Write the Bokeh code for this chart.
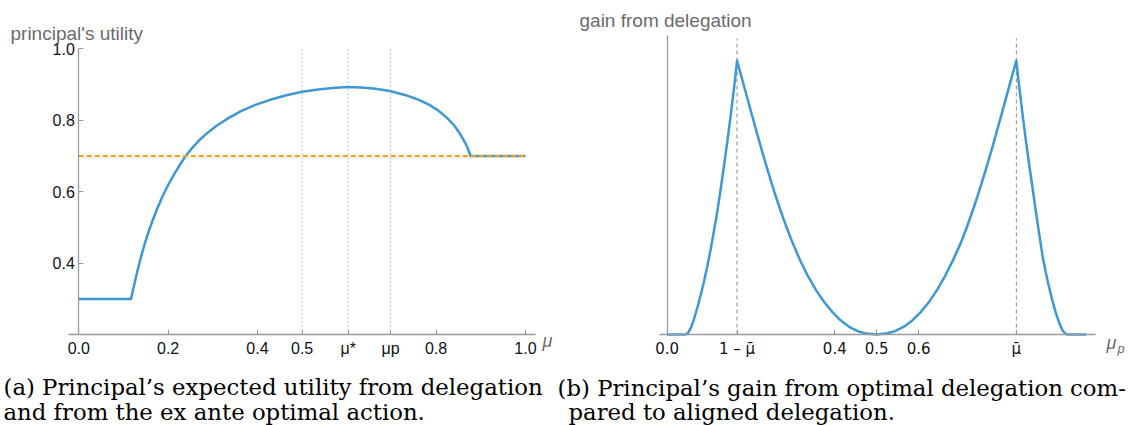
from bokeh.plotting import figure
from bokeh.models import Range1d, FixedTicker, Label, NumeralTickFormatter
from bokeh.layouts import row
from bokeh.embed import file_html
from bokeh.resources import INLINE

# ---------------- data: panel (a) ----------------
mu_star = 0.603
mu_p = 0.698
deleg_mu = [0.0, 0.117, 0.120, 0.125, 0.130, 0.138, 0.146, 0.155, 0.165, 0.175,
            0.187, 0.200, 0.213, 0.226, 0.238, 0.252, 0.268, 0.287, 0.310, 0.335,
            0.362, 0.395, 0.430, 0.465, 0.500, 0.540, 0.575, 0.603, 0.630, 0.660,
            0.696, 0.730, 0.760, 0.785, 0.805, 0.825, 0.840, 0.852, 0.862, 0.870,
            0.877, 1.0]
deleg_u = [0.300, 0.300, 0.318, 0.345, 0.372, 0.412, 0.448, 0.484, 0.519, 0.551,
           0.586, 0.619, 0.648, 0.675, 0.698, 0.720, 0.742, 0.764, 0.786, 0.806,
           0.825, 0.843, 0.858, 0.870, 0.880, 0.887, 0.891, 0.893, 0.892, 0.889,
           0.882, 0.871, 0.858, 0.843, 0.827, 0.806, 0.786, 0.765, 0.744, 0.724,
           0.700, 0.700]
exante_mu = [0.0, 1.0]
exante_u = [0.7, 0.7]
ref_mu = [0.5, mu_star, mu_p]
a_xticks = [0.0, 0.2, 0.4, 0.5, mu_star, mu_p, 0.8, 1.0]
a_xlabels = ["0.0", "0.2", "0.4", "0.5", "\u03bc*", "\u03bcp", "0.8", "1.0"]
a_yticks = [0.4, 0.6, 0.8, 1.0]

# ---------------- data: panel (b) ----------------
mu_bar = 0.8333
gain_mu = [0.0, 0.044, 0.050, 0.057, 0.064, 0.072, 0.080, 0.088, 0.096, 0.104,
           0.112, 0.120, 0.128, 0.136, 0.144, 0.152, 0.160, 0.1667, 0.180, 0.195,
           0.210, 0.225, 0.240, 0.255, 0.270, 0.285, 0.300, 0.318, 0.336, 0.355,
           0.375, 0.395, 0.415, 0.435, 0.455, 0.475, 0.500, 0.525, 0.545, 0.565,
           0.585, 0.605, 0.625, 0.645, 0.664, 0.682, 0.700, 0.715, 0.730, 0.745,
           0.760, 0.775, 0.790, 0.805, 0.820, 0.8333, 0.840, 0.848, 0.856, 0.864,
           0.872, 0.880, 0.888, 0.896, 0.904, 0.912, 0.920, 0.928, 0.936, 0.943,
           0.950, 0.955, 1.0]
gain_val = [0.0, 0.0, 0.006, 0.024, 0.052, 0.090, 0.132, 0.178, 0.230, 0.287,
            0.350, 0.415, 0.490, 0.568, 0.650, 0.738, 0.830, 0.916, 0.848, 0.771,
            0.695, 0.620, 0.548, 0.480, 0.417, 0.358, 0.304, 0.246, 0.195, 0.149,
            0.108, 0.074, 0.046, 0.025, 0.011, 0.003, 0.0, 0.004, 0.012, 0.026,
            0.047, 0.075, 0.109, 0.151, 0.198, 0.248, 0.304, 0.358, 0.418, 0.481,
            0.550, 0.621, 0.696, 0.772, 0.849, 0.916, 0.830, 0.738, 0.650, 0.568,
            0.490, 0.410, 0.335, 0.262, 0.205, 0.155, 0.110, 0.070, 0.038, 0.015,
            0.003, 0.0, 0.0]
ref_b = [1 - mu_bar, mu_bar]
b_xticks = [0.0, 1 - mu_bar, 0.4, 0.5, 0.6, mu_bar]
b_xlabels = ["0.0", "1 \u2013 \u03bc\u0304", "0.4", "0.5", "0.6", "\u03bc\u0304"]

BLUE = "#3d98d3"
ORANGE = "#f59f23"
AXIS = "#9a9a9a"
LABEL_GRAY = "#6b6b6b"
SANS = "Liberation Sans"
SERIF = "DejaVu Serif"
CAP = "22.8px"


def style_axes(p):
    p.outline_line_color = None
    p.xgrid.visible = False
    p.ygrid.visible = False
    p.background_fill_color = "white"
    p.border_fill_color = "white"
    for ax in (p.xaxis[0], p.yaxis[0]):
        ax.axis_line_color = AXIS
        ax.axis_line_width = 1.3
        ax.major_tick_line_color = AXIS
        ax.major_tick_line_width = 1.0
        ax.major_tick_in = 5
        ax.major_tick_out = 0
        ax.minor_tick_line_color = None
        ax.major_label_text_font = SANS
        ax.major_label_text_font_size = "16px"
        ax.major_label_text_color = "#111111"
    p.xaxis[0].major_label_standoff = 5
    p.yaxis[0].major_label_standoff = 4


def label(p, x, y, text, font=SANS, size="19px", color=LABEL_GRAY, style="normal"):
    p.add_layout(Label(x=x, y=y, text=text, text_font=font, text_font_size=size,
                       text_color=color, text_font_style=style,
                       text_baseline="alphabetic"))


# ---------------- panel (a) ----------------
p1 = figure(width=555, height=425, output_backend="svg", toolbar_location=None,
            x_range=Range1d(-0.1753, 1.0672), y_range=Range1d(-0.0537, 1.1351),
            min_border=0)
style_axes(p1)
p1.xaxis[0].fixed_location = 0.2
p1.xaxis[0].bounds = (-0.023, 1.0224)
p1.yaxis[0].fixed_location = 0.0
p1.yaxis[0].bounds = (0.2, 1.0)
p1.xaxis[0].ticker = FixedTicker(ticks=a_xticks)
p1.xaxis[0].major_label_overrides = {t: l for t, l in zip(a_xticks, a_xlabels)}
p1.yaxis[0].ticker = FixedTicker(ticks=a_yticks)
p1.yaxis[0].formatter = NumeralTickFormatter(format="0.0")

p1.segment(x0=ref_mu, y0=[0.2] * len(ref_mu), x1=ref_mu, y1=[1.0] * len(ref_mu),
           line_color="#8c8c8c", line_dash="1 3", line_width=1)
p1.line(deleg_mu, deleg_u, line_color=BLUE, line_width=2.5, line_join="round")
p1.line(exante_mu, exante_u, line_color=ORANGE, line_width=2.3, line_dash="5 3")

label(p1, -0.1529, 1.0428, "principal's utility")
label(p1, 1.0381, 0.1813, "\u03bc", size="18px", style="italic")
label(p1, -0.1686, 0.0526, "(a) Principal\u2019s expected utility from delegation",
      font=SERIF, size=CAP, color="black")
label(p1, -0.1686, -0.0146, "and from the ex ante optimal action.",
      font=SERIF, size=CAP, color="black")

# ---------------- panel (b) ----------------
p2 = figure(width=573, height=425, output_backend="svg", toolbar_location=None,
            x_range=Range1d(-0.2666, 1.1010), y_range=Range1d(-0.3043, 1.1171),
            min_border=0)
style_axes(p2)
p2.xaxis[0].fixed_location = 0.0
p2.xaxis[0].bounds = (-0.0184, 1.022)
p2.xaxis[0].major_label_text_font = "DejaVu Sans"
p2.xaxis[0].major_label_text_font_size = "15px"
p2.yaxis[0].fixed_location = 0.0
p2.yaxis[0].bounds = (0.0, 1.0)
p2.xaxis[0].ticker = FixedTicker(ticks=b_xticks)
p2.xaxis[0].major_label_overrides = {t: l for t, l in zip(b_xticks, b_xlabels)}
p2.yaxis[0].ticker = FixedTicker(ticks=[])
p2.yaxis[0].major_label_text_font_size = "0px"

p2.segment(x0=ref_b, y0=[0.0] * len(ref_b), x1=ref_b, y1=[0.99] * len(ref_b),
           line_color="#8c8c8c", line_dash="4 3", line_width=1)
p2.line(gain_mu, gain_val, line_color=BLUE, line_width=2.5, line_join="round")

label(p2, -0.2093, 1.0518, "gain from delegation")
label(p2, 1.0485, -0.0268, "\u03bc", size="18px", style="italic")
label(p2, 1.0747, -0.0468, "p", size="13px", style="italic")
label(p2, -0.2618, -0.1773, "(b) Principal\u2019s gain from optimal delegation com-",
      font=SERIF, size=CAP, color="black")
label(p2, -0.2356, -0.2575, "pared to aligned delegation.",
      font=SERIF, size=CAP, color="black")

layout = row(p1, p2)
open("out.html", "w").write(file_html(layout, INLINE))
